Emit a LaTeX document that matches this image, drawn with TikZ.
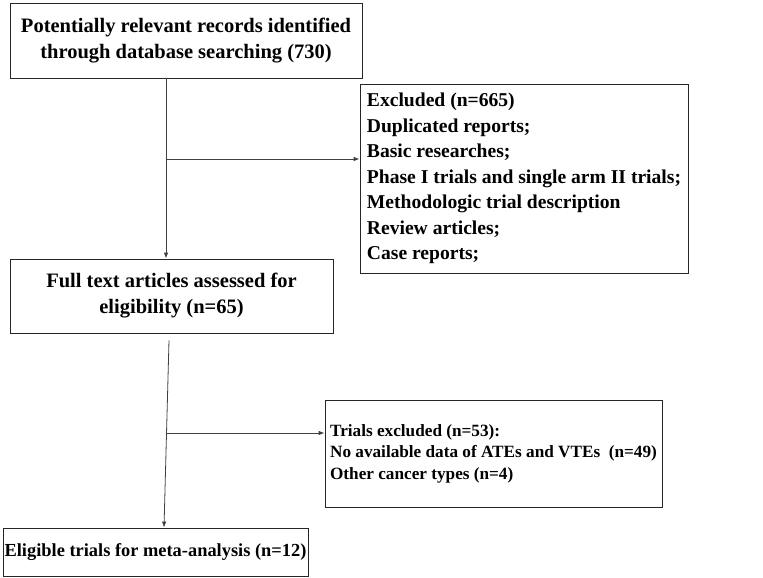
\documentclass[tikz,border=0pt]{standalone}
\usepackage{fontspec}
\setmainfont{Liberation Serif}
\usetikzlibrary{arrows.meta}
\tikzstyle{stage}=[draw=black!85, line width=0.8pt, align=center, inner sep=0pt,
    font=\bfseries\fontsize{20.5}{26}\selectfont]
\tikzstyle{reason}=[stage, align=left]
\tikzstyle{flow}=[draw=black!75, line width=0.8pt, -{Latex[length=6pt,width=4.5pt]}]
\newcommand{\stage}{\node[stage]}

\begin{document}
\begin{tikzpicture}[x=1pt, y=-1pt]
\useasboundingbox (0,0) rectangle (763,578);
\stage (records) at (186,40.5) [minimum width=352pt, minimum height=75pt]
    {Potentially relevant records identified\\through database searching (730)};
\node[reason] (excl) at (524,178.5) [minimum width=328pt, minimum height=189pt,
    font=\bfseries\fontsize{19.6}{25.5}\selectfont]
    {Excluded (n=665)\\Duplicated reports;\\Basic researches;\\Phase I trials and single arm II trials;\\Methodologic trial description\\Review articles;\\Case reports;};
\stage (full) at (171.5,296) [minimum width=323pt, minimum height=74pt]
    {Full text articles assessed for\\eligibility (n=65)};
\node[reason] (trials) at (493.5,453.5) [minimum width=337pt, minimum height=107pt,
    font=\bfseries\fontsize{17.2}{21.5}\selectfont]
    {Trials excluded (n=53):\\No available data of ATEs and VTEs\ \ (n=49)\\Other cancer types (n=4)};
\stage (elig) at (155.5,552) [minimum width=305pt, minimum height=48pt,
    font=\bfseries\fontsize{18.4}{22}\selectfont]
    {Eligible trials for meta-analysis (n=12)};
\coordinate (j1) at (166,159);
\coordinate (j2) at (166,433);
% connectors
\draw[flow] ([xshift=-20pt]records.south) -- ([xshift=-20pt]records.south |- full.north);
\draw[flow] (j1) -- (j1 -| excl.west);
\draw[flow] ([xshift=-2.5pt,yshift=-7pt]full.south) -- ([xshift=8.5pt]elig.north);
\draw[flow] (j2) -- (j2 -| trials.west);
\end{tikzpicture}
\end{document}
